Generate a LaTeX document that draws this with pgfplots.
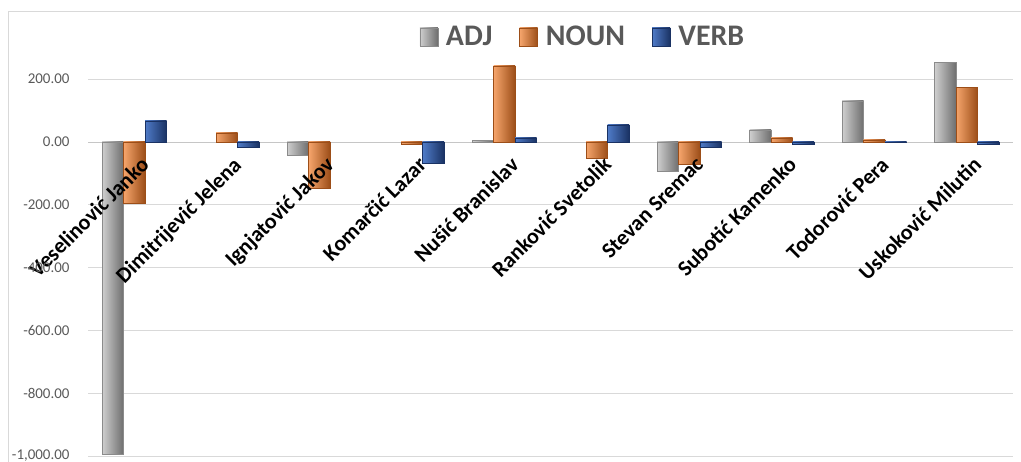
\documentclass[border=0pt]{standalone}
\usepackage{fontspec}
\setmainfont{Carlito}
\usepackage{pgfplots}
\pgfplotsset{compat=1.18}
\definecolor{tickgray}{HTML}{595959}
\definecolor{gridgray}{HTML}{D9D9D9}
\definecolor{adjL}{HTML}{CFCFCF}
\definecolor{adjM}{HTML}{ECECEC}
\definecolor{adjR}{HTML}{6E6E6E}
\definecolor{nounL}{HTML}{F6A56C}
\definecolor{nounM}{HTML}{EF7F2E}
\definecolor{nounR}{HTML}{9C4E18}
\definecolor{verbL}{HTML}{4F7BC8}
\definecolor{verbM}{HTML}{2F5597}
\definecolor{verbR}{HTML}{1A3263}
\pgfplotsset{
  layers/mylayers/.define layer set={axis background,axis grid,axis ticks,axis lines,pre main,main,axis tick labels,axis descriptions,axis foreground}{/pgfplots/layers/standard},
  A/.style={ybar, bar shift=-21.5bp, draw=adjR!80, left color=adjL, middle color=adjM, right color=adjR},
  N/.style={ybar, bar shift=0bp, draw=nounR, left color=nounL, middle color=nounM, right color=nounR},
  V/.style={ybar, bar shift=21.5bp, draw=verbR, left color=verbL, middle color=verbM, right color=verbR},
}
\begin{document}
\begin{tikzpicture}[x=1bp,y=1bp]
\draw[gridgray] (8,-11) rectangle (1040,-480);
\begin{axis}[
  set layers=mylayers,
  at={(88bp,-456bp)}, anchor=south west,
  scale only axis, width=925bp, height=408.5bp,
  xmin=-0.5, xmax=9.5, ymin=-1000, ymax=300,
  axis x line=middle, axis y line=left,
  hide obscured x ticks=false, hide obscured y ticks=false,
  x axis line style={-, draw=gray!45},
  y axis line style={draw=none},
  bar width=21.5bp,
  ytick={-1000,-800,...,200},
  ymajorgrids, grid style={gridgray},
  xtick={0,...,9},
  xticklabels={Veselinović Janko, Dimitrijević Jelena, Ignjatović Jakov, Komarčić Lazar, Nušić Branislav, Ranković Svetolik, Stevan Sremac, Subotić Kamenko, Todorović Pera, Uskoković Milutin},
  tick style={draw=none},
  major tick length=0pt,
  /pgf/number format/assume math mode=true,
  yticklabel style={font=\fontsize{15}{17}\selectfont, text=tickgray, xshift=-15bp, /pgf/number format/.cd, fixed, fixed zerofill, precision=2, 1000 sep={,}},
  xticklabel style={rotate=45, anchor=north east, font=\bfseries\fontsize{22}{24}\selectfont, inner sep=1bp, xshift=-5bp, yshift=-12bp},
  legend columns=3,
  legend style={at={(0.535,1.026)}, anchor=center, draw=none, fill=none,
    font=\bfseries\fontsize{30}{32}\selectfont, text=tickgray,
    /tikz/every odd column/.append style={column sep=6bp},
    /tikz/every even column/.append style={column sep=25bp}},
  legend image code/.code={\draw[#1] (0bp,-9bp) rectangle (18bp,9bp);},
]
% first bar of each series carries the legend entry
\addplot[A] coordinates {(0,-995)}; \addlegendentry{ADJ}
\addplot[N] coordinates {(0,-197)}; \addlegendentry{NOUN}
\addplot[V] coordinates {(0,67)};   \addlegendentry{VERB}
% ADJ
\addplot[A, forget plot] coordinates {(2,-43)};
\addplot[A, forget plot] coordinates {(4,5)};
\addplot[A, forget plot] coordinates {(6,-95)};
\addplot[A, forget plot] coordinates {(7,38)};
\addplot[A, forget plot] coordinates {(8,130)};
\addplot[A, forget plot] coordinates {(9,253)};
% NOUN
\addplot[N, forget plot] coordinates {(1,28)};
\addplot[N, forget plot] coordinates {(2,-147)};
\addplot[N, forget plot] coordinates {(3,-8)};
\addplot[N, forget plot] coordinates {(4,242)};
\addplot[N, forget plot] coordinates {(5,-52)};
\addplot[N, forget plot] coordinates {(6,-71)};
\addplot[N, forget plot] coordinates {(7,12)};
\addplot[N, forget plot] coordinates {(8,6)};
\addplot[N, forget plot] coordinates {(9,174)};
% VERB
\addplot[V, forget plot] coordinates {(1,-17)};
\addplot[V, forget plot] coordinates {(3,-68)};
\addplot[V, forget plot] coordinates {(4,12)};
\addplot[V, forget plot] coordinates {(5,54)};
\addplot[V, forget plot] coordinates {(6,-18)};
\addplot[V, forget plot] coordinates {(7,-9)};
\addplot[V, forget plot] coordinates {(8,-2)};
\addplot[V, forget plot] coordinates {(9,-9)};
\end{axis}
\pgfresetboundingbox
\path[use as bounding box] (0,0) rectangle (1021,-462);
\end{tikzpicture}
\end{document}
